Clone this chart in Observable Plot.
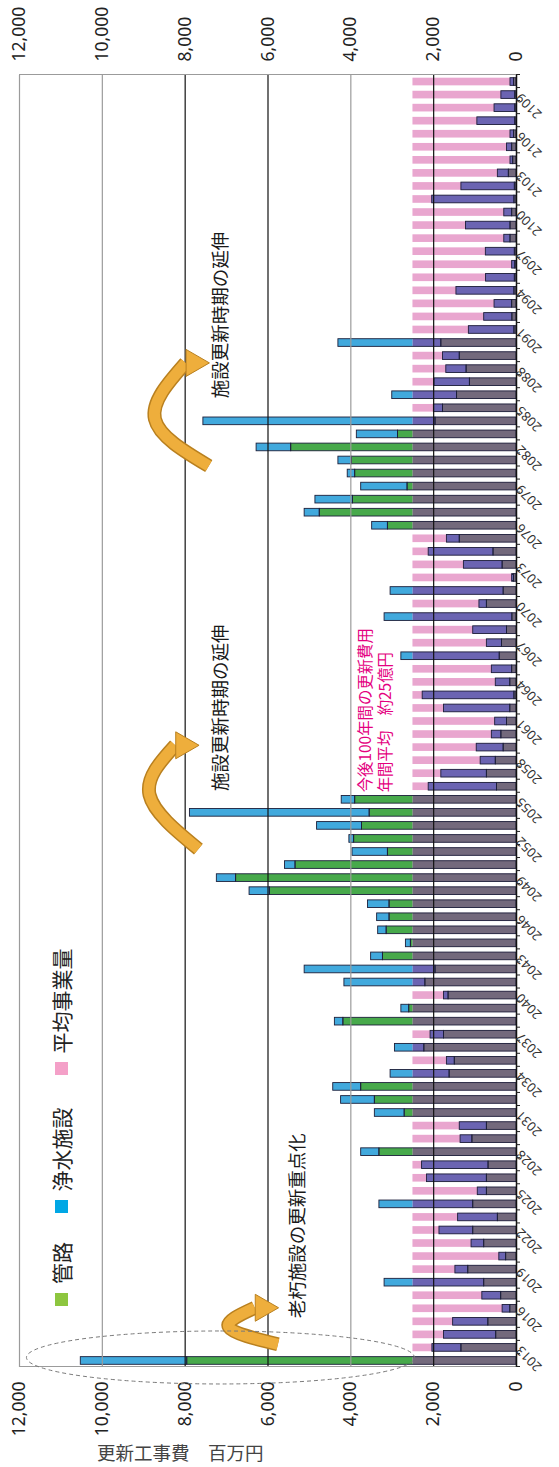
<!DOCTYPE html>
<html><head><meta charset="utf-8">
<script src="https://cdn.jsdelivr.net/npm/d3@7"></script>
<script src="https://cdn.jsdelivr.net/npm/@observablehq/plot@0.6"></script>
<style>
html,body{margin:0;padding:0;width:559px;height:1467px;overflow:hidden;background:#fff;}
#wrap{position:absolute;left:0;top:0;width:1467px;height:559px;transform-origin:0 0;transform:translateY(1467px) rotate(-90deg);}
.lg{position:absolute;display:flex;align-items:center;font-family:"Noto Sans CJK JP",sans-serif;font-size:21px;color:#222;line-height:1;}
.lg .sw{width:13px;height:13px;margin-right:9px;display:inline-block;}
#ytitle{position:absolute;left:5px;top:97px;writing-mode:vertical-rl;text-orientation:sideways;font-family:"Noto Sans CJK JP",sans-serif;font-size:18.5px;line-height:20px;color:#444;white-space:nowrap;}
</style></head><body><div id="wrap"></div>
<script>
// ---- data ----
const years = d3.range(2013, 2112);
const kanro = [
  7950,1330,490,680,150,370,780,1165,250,780,
  1045,450,1045,715,715,675,3310,1065,715,2700,
  3420,3750,1615,1490,2225,1750,4180,2590,1640,2200,
  1955,3225,2550,3135,3065,3065,5955,6770,5335,3105,
  3920,3730,3545,3895,470,715,500,310,365,230,
  150,50,150,105,405,350,230,100,715,310,
  60,335,555,1370,3105,4750,3950,2630,3895,3975,
  5440,2860,1955,1775,1435,1125,1205,1370,1815,50,
  100,105,50,40,30,40,145,145,105,50,
  40,185,80,105,60,30,30,30,60
];
const josui = [
  2570,700,1260,850,185,455,2405,310,165,305,
  815,960,2265,220,1445,1605,440,285,655,720,
  815,675,1425,190,710,325,205,190,110,1955,
  3160,285,120,205,300,520,490,465,255,855,
  115,1085,4340,325,1650,1100,365,650,230,285,
  1600,2215,350,490,2375,365,815,3085,180,2730,
  45,935,1565,310,380,365,905,1120,180,325,
  835,995,5605,220,1565,855,490,405,2485,1100,
  680,425,1400,695,75,700,150,1075,190,1985,
  1290,265,65,125,85,915,500,335,85
];
const averageCost = 2500;
const valueTicks = [0,2000,4000,6000,8000,10000,12000];
const yearLabels = d3.range(2013, 2112, 3);
const seriesNames = ["管路","浄水施設","平均事業量"];
const legendColors = ["#8dc63f","#00a7e5","#f4a0c8"];

const annoText = ["老朽施設の更新重点化","施設更新時期の延伸","施設更新時期の延伸"];
const annoYear = [2016.2, 2056.6, 2086.7];
const annoValue = [5270, 7140, 7140];
const noteText = ["今後100年間の更新費用","年間平均　約25億円"];
const noteYear = [2056.5, 2056.5];
const noteValue = [3640, 3160];

const arrowTail = [[2014.2,5760],[2052.15,7680],[2081.5,7430]];
const arrowApex = [[2015.5,6940],[2056.3,8860],[2085.1,8730]];
const arrowTip  = [[2017.0,5760],[2060.1,7680],[2089.4,7430]];
const ellipseCenter = [2013.23, 7136];

// ---- styles ----
const C = {green:"#47a94b", blue:"#41a9dd", mutedG:"#73697c", mutedB:"#6b64b2", pink:"#e9a6cf", edge:"#1c1f3a", orange:"#eeae3c", orangeDark:"#b9801f"};

const rows = years.map((year,i)=>({year, g:kanro[i], b:josui[i], t:kanro[i]+josui[i]}));
const segs = [];
rows.forEach(r=>{
  segs.push({year:r.year, y1:0, y2:Math.min(r.g, averageCost), k:"mG"});
  if (r.g > averageCost) segs.push({year:r.year, y1:averageCost, y2:r.g, k:"G"});
  if (r.g < averageCost) segs.push({year:r.year, y1:r.g, y2:Math.min(r.t, averageCost), k:"mB"});
  if (r.t > averageCost) segs.push({year:r.year, y1:Math.max(r.g, averageCost), y2:r.t, k:"B"});
});
const outlines = rows.flatMap(r=>[{year:r.year,y1:0,y2:r.g},{year:r.year,y1:r.g,y2:r.t}]);
const avgRows = years.map(year=>({year, v:averageCost}));

const arrowPts = [];
const arrowHeads = [];
arrowTail.forEach((t,i)=>{
  const tip = arrowTip[i];
  arrowPts.push({id:i, x:t[0], y:t[1]}, {id:i, x:arrowApex[i][0], y:arrowApex[i][1]}, {id:i, x:tip[0], y:tip[1]+560});
  arrowHeads.push({x:tip[0], y:tip[1]+360});
});
const annoRows = annoText.map((t,i)=>({t, x:annoYear[i], y:annoValue[i]}));
const noteRows = noteText.map((t,i)=>({t, x:noteYear[i], y:noteValue[i]}));

const X1 = d=>d.year-0.5, X2 = d=>d.year+0.5;
const inset = {insetLeft:2.7, insetRight:2.7};

const chart = Plot.plot({
  width:1467, height:559,
  marginLeft:100, marginRight:75, marginTop:19, marginBottom:43,
  x:{domain:[2012.5,2111.5], axis:null},
  y:{domain:[0,12000], axis:null},
  style:{fontFamily:"'Noto Sans','Noto Sans CJK JP',sans-serif", color:"#222", background:"#fff", overflow:"visible"},
  marks:[
    Plot.rect(avgRows, {x1:X1, x2:X2, y1:0, y2:"v", fill:C.pink, ...inset}),
    Plot.rect(segs.filter(d=>d.k==="mG"), {x1:X1, x2:X2, y1:"y1", y2:"y2", fill:C.mutedG, ...inset}),
    Plot.rect(segs.filter(d=>d.k==="G"), {x1:X1, x2:X2, y1:"y1", y2:"y2", fill:C.green, ...inset}),
    Plot.rect(segs.filter(d=>d.k==="mB"), {x1:X1, x2:X2, y1:"y1", y2:"y2", fill:C.mutedB, ...inset}),
    Plot.rect(segs.filter(d=>d.k==="B"), {x1:X1, x2:X2, y1:"y1", y2:"y2", fill:C.blue, ...inset}),
    Plot.rect(outlines.filter(d=>d.y2>d.y1), {x1:X1, x2:X2, y1:"y1", y2:"y2", fill:"none", stroke:C.edge, strokeWidth:0.9, ...inset}),
    Plot.ruleY([4000,10000,12000], {stroke:"#9b9b9b", strokeWidth:1.2}),
    Plot.ruleY([2000,6000,8000], {stroke:"#111", strokeWidth:1.2}),
    Plot.ruleX([2012.5,2111.5], {stroke:"#9b9b9b", strokeWidth:1.2}),
    Plot.ruleY([0], {stroke:"#111", strokeWidth:1.5}),
    Plot.axisY({anchor:"left", label:null, ticks:valueTicks, tickSize:0, tickPadding:15, tickFormat:d3.format(","), fontSize:17.5}),
    Plot.axisY({anchor:"right", label:null, ticks:valueTicks, tickSize:0, tickPadding:13, tickFormat:d3.format(","), fontSize:17.5}),
    Plot.axisX({anchor:"bottom", label:null, ticks:[2012.5, ...years.map(y=>y+0.5)], tickSize:4, stroke:"#222", fill:"none"}),
    Plot.text(yearLabels, {x:d=>d, text:d=>String(d), frameAnchor:"bottom", rotate:-45, textAnchor:"end", dx:15, dy:5, fontSize:13, fill:"#333"}),
    Plot.line(arrowPts, {x:"x", y:"y", z:"id", curve:"natural", stroke:C.orangeDark, strokeWidth:14, strokeLinecap:"butt"}),
    Plot.line(arrowPts, {x:"x", y:"y", z:"id", curve:"natural", stroke:C.orange, strokeWidth:11, strokeLinecap:"butt"}),
    Plot.dot(arrowHeads, {x:"x", y:"y", symbol:"triangle", r:10, rotate:180, fill:C.orange, stroke:C.orangeDark, strokeWidth:1}),
    Plot.text(annoRows, {x:"x", y:"y", text:"t", textAnchor:"start", fontSize:18.5, fontFamily:"Noto Sans CJK JP", fill:"#1a1a1a", stroke:"white", strokeWidth:4}),
    Plot.text(noteRows, {x:"x", y:"y", text:"t", textAnchor:"start", fontSize:15.4, fontFamily:"Noto Sans CJK JP", fill:"#e4007f", stroke:"white", strokeWidth:3})
  ]
});

// dashed ellipse around the 2013 bar, placed through the chart's scales
const sx = chart.scale("x"), sy = chart.scale("y");
d3.select(chart).append("ellipse")
  .attr("cx", sx.apply(ellipseCenter[0])).attr("cy", sy.apply(ellipseCenter[1]))
  .attr("rx", 26.5).attr("ry", 194)
  .attr("fill","none").attr("stroke","#7a7a7a").attr("stroke-width",1).attr("stroke-dasharray","4,3");

const wrap = document.getElementById("wrap");
wrap.appendChild(chart);

const legendLeft = [161, 253.5, 391.5];
seriesNames.forEach((n,i)=>{
  const d = document.createElement("div");
  d.className = "lg";
  d.style.left = legendLeft[i] + "px";
  d.style.top = "51px";
  d.innerHTML = `<span class="sw" style="background:${legendColors[i]}"></span><span>${n}</span>`;
  wrap.appendChild(d);
});
const yt = document.createElement("div");
yt.id = "ytitle";
yt.textContent = "更新工事費　百万円";
wrap.appendChild(yt);
</script>
</body></html>
